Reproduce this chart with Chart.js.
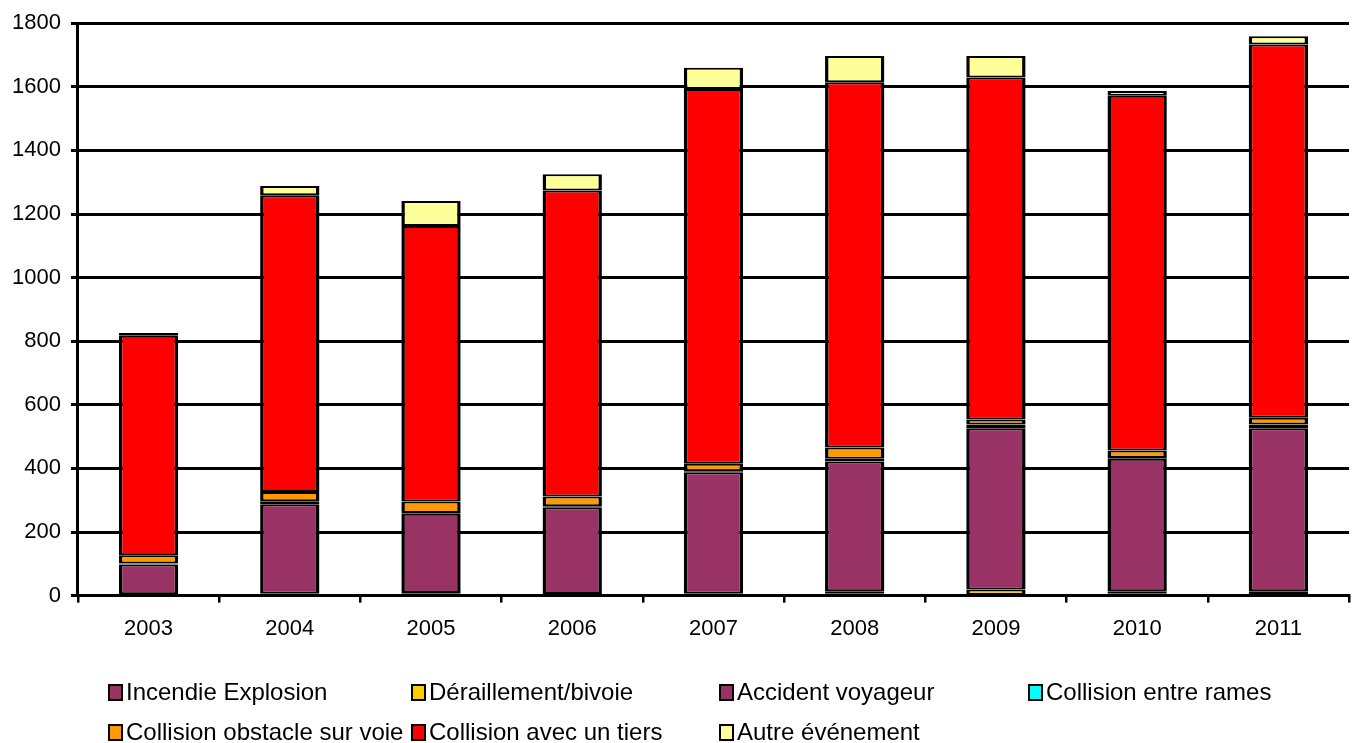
<!DOCTYPE html>
<html>
<head>
<meta charset="utf-8">
<script src="https://cdn.jsdelivr.net/npm/chart.js@4"></script>
<style>
    body { margin: 0; background: #fff; }
    #wrap { position: relative; width: 1354px; height: 743px; }
    #legend { position: absolute; left: 0; top: 0; width: 1354px; height: 743px; pointer-events: none;
        font-family: 'Liberation Sans', Arial, sans-serif; font-size: 24px; color: #000; }
    .item { position: absolute; display: flex; align-items: center; white-space: nowrap; }
    .box { width: 11px; height: 13px; border: 2.5px solid #000; margin-right: 3px; }
</style>
</head>
<body>
<div id="wrap">
    <canvas id="graph" width="1354" height="743"></canvas>
    <div id="legend"></div>
</div>
<script>
const years = ['2003', '2004', '2005', '2006', '2007', '2008', '2009', '2010', '2011'];

const incendie   = [2, 4, 6, 3, 4, 6, 3, 6, 8];
const deraillement = [2, 2, 2, 2, 2, 8, 16, 8, 6];
const voyageur   = [94, 281, 249, 273, 382, 408, 507, 416, 512];
const rames      = [3, 10, 3, 3, 3, 8, 12, 3, 12];
const obstacle   = [26, 29, 36, 31, 24, 36, 16, 23, 21];
const tiers      = [690, 933, 866, 962, 1178, 1148, 1075, 1116, 1174];
const autre      = [9, 29, 79, 51, 67, 83, 68, 15, 26];

const yTicks = [0, 200, 400, 600, 800, 1000, 1200, 1400, 1600, 1800];

const font = "'Liberation Sans', Arial, sans-serif";

function serie(label, data, color)
{
    return {
        label: label,
        data: data,
        backgroundColor: color,
        borderColor: '#000',
        borderWidth: { left: 3.5, right: 3.5, top: 2, bottom: 2 },
        borderSkipped: false,
        inflateAmount: 0
    };
}

const datasets = [
    serie('Incendie Explosion', incendie, '#993366'),
    serie('Déraillement/bivoie', deraillement, '#FFCC00'),
    serie('Accident voyageur', voyageur, '#993366'),
    serie('Collision entre rames', rames, '#00FFFF'),
    serie('Collision obstacle sur voie', obstacle, '#FF9900'),
    serie('Collision avec un tiers', tiers, '#FF0000'),
    serie('Autre événement', autre, '#FFFF99')
];

const ctx = document.getElementById('graph').getContext('2d');
const accidentsChart = new Chart(ctx, {
    type: 'bar',
    data: {
        labels: years,
        datasets: datasets
    },
    options: {
        responsive: false,
        animation: false,
        categoryPercentage: 1,
        barPercentage: 0.42,
        layout: {
            padding: { left: 2, right: 5, top: 10, bottom: 88 }
        },
        scales: {
            x: {
                stacked: true,
                grid: {
                    display: true,
                    drawOnChartArea: false,
                    drawTicks: true,
                    tickLength: 7,
                    color: '#000',
                    lineWidth: 2.5,
                    offset: true
                },
                border: { display: true, color: '#000', width: 3 },
                ticks: {
                    color: '#000',
                    padding: 13,
                    font: { family: font, size: 22 }
                }
            },
            y: {
                stacked: true,
                min: 0,
                max: 1800,
                afterBuildTicks: axis => { axis.ticks = yTicks.map(v => ({ value: v })); },
                grid: {
                    color: '#000',
                    lineWidth: 3,
                    tickLength: 7
                },
                border: { display: true, color: '#000', width: 3 },
                ticks: {
                    color: '#000',
                    padding: 10,
                    font: { family: font, size: 22 },
                    callback: value => String(value)
                }
            }
        },
        plugins: {
            legend: { display: false },
            tooltip: { enabled: false }
        }
    }
});

// legend grid under the chart: 4 columns on the first row, 3 on the second
const legendCols = [108, 411, 719, 1028];
const legendRows = [692, 732];
const legend = document.getElementById('legend');
datasets.forEach((ds, i) => {
    const item = document.createElement('div');
    item.className = 'item';
    item.style.left = legendCols[i % 4] + 'px';
    item.style.top = (legendRows[Math.floor(i / 4)] - 14) + 'px';
    item.style.height = '28px';
    const box = document.createElement('span');
    box.className = 'box';
    box.style.background = ds.backgroundColor;
    const text = document.createElement('span');
    text.textContent = ds.label;
    item.appendChild(box);
    item.appendChild(text);
    legend.appendChild(item);
});
</script>
</body>
</html>
